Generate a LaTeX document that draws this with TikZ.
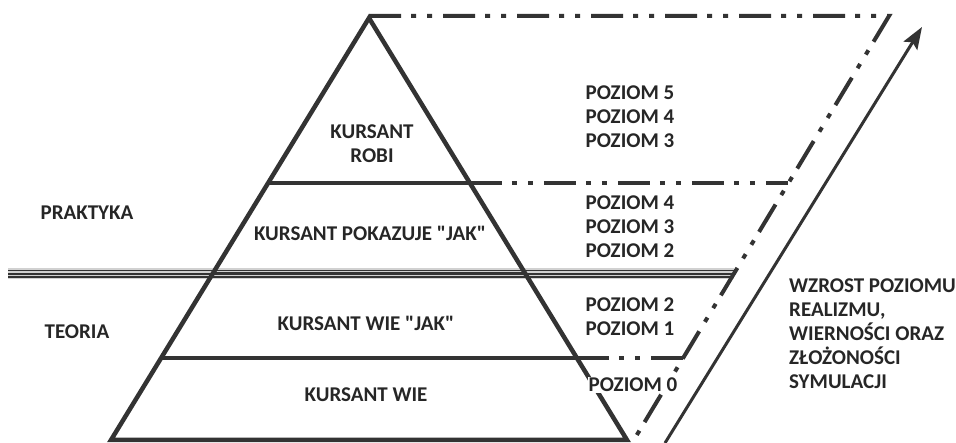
\documentclass[tikz,border=0pt]{standalone}
\usepackage{fontspec}
\setmainfont{Carlito}[Ligatures=TeXOff]
\usetikzlibrary{arrows.meta,calc}
\definecolor{inkgray}{RGB}{51,51,51}
\newcommand{\qt}{\symbol{34}}
\tikzset{
  pyrline/.style={line width=4.5pt, inkgray, line join=miter},
  tierline/.style={line width=3.5pt, inkgray},
  dashdotdot/.style={line width=4pt, inkgray, dash pattern=on 32pt off 10pt on 5pt off 11pt on 5pt off 11pt},
  risearrow/.style={line width=3pt, inkgray, -{Stealth[length=22pt,width=16pt,inset=4pt]}},
  sepline/.style={inkgray, line width=#1},
  lbl/.style={font=\fontsize{21}{24}\selectfont\bfseries, text=black!85, align=center, inner sep=1pt}
}
\begin{document}
\begin{tikzpicture}[x=1pt,y=-1pt]
  \useasboundingbox (0,0) rectangle (956,443);
  % pyramid corners and tier borders
  \coordinate (apex) at (369,18);
  \coordinate (baseL) at (111,440);
  \coordinate (baseR) at (627,440);
  \coordinate (l1) at ($(apex)!0.391!(baseL)$);
  \coordinate (r1) at ($(apex)!0.391!(baseR)$);
  \coordinate (l2) at ($(apex)!0.606!(baseL)$);
  \coordinate (r2) at ($(apex)!0.606!(baseR)$);
  \coordinate (l3) at ($(apex)!0.806!(baseL)$);
  \coordinate (r3) at ($(apex)!0.806!(baseR)$);
  % right frame
  \coordinate (topL) at (369,16);
  \coordinate (topR) at (889,16);
  \coordinate (lowR) at (635,438);
  \coordinate (s1) at ($(lowR)!0.604!(topR)$);
  \coordinate (s2) at ($(lowR)!0.389!(topR)$);
  \coordinate (s3) at ($(lowR)!0.19!(topR)$);
  \coordinate (arrS) at (665,443);
  \coordinate (arrE) at (922,27);
  % theory / practice separator
  \coordinate (sepL) at (8,0);
  \coordinate (sepA) at (sepL |- l2);
  \coordinate (sepB) at (s2 |- l2);
  \fill[black!18] ($(sepA)+(0,-5.5)$) rectangle ($(sepB)+(0,5.5)$);
  \foreach \dy/\w in {-3.4/1.3, 0/2.4, 3.4/1.3}
    \draw[sepline=\w pt] ($(sepA)+(0,\dy)$) -- ($(sepB)+(0,\dy)$);

  \draw[pyrline] (apex) -- (baseR) -- (baseL) -- cycle;
  \draw[tierline] (l1) -- (r1);
  \draw[tierline] (l2) -- (r2);
  \draw[tierline] (l3) -- (r3);

  \draw[dashdotdot] (topL) -- (topR) -- (lowR);
  \draw[dashdotdot] (r1) -- (s1 |- r1);
  \draw[dashdotdot] (r3) -- (s3 |- r3);
  \draw[risearrow] (arrS) -- (arrE);

  \node[lbl] (robi) at (372,144) {KURSANT\\ROBI};
  \node[lbl] (pokazuje) at (370,233) {KURSANT POKAZUJE \qt JAK\qt};
  \node[lbl] (wiejak) at (366,323) {KURSANT WIE \qt JAK\qt};
  \node[lbl] (wie) at (366,395) {KURSANT WIE};
  \node[lbl] (lvtop) at (630,117) {POZIOM 5\\POZIOM 4\\POZIOM 3};
  \node[lbl] (lvmid) at (630,227) {POZIOM 4\\POZIOM 3\\POZIOM 2};
  \node[lbl] (lvlow) at (630,317) {POZIOM 2\\POZIOM 1};
  \node[lbl, fill=white] (lvzero) at (633,385) {POZIOM 0};
  \node[lbl] (praktyka) at (87,213) {PRAKTYKA};
  \node[lbl] (teoria) at (77,332) {TEORIA};
  \node[lbl, align=left, anchor=west] (wzrost) at (788,333.5)
    {WZROST POZIOMU\\REALIZMU,\\WIERNOŚCI ORAZ\\ZŁOŻONOŚCI\\SYMULACJI};
\end{tikzpicture}
\end{document}
